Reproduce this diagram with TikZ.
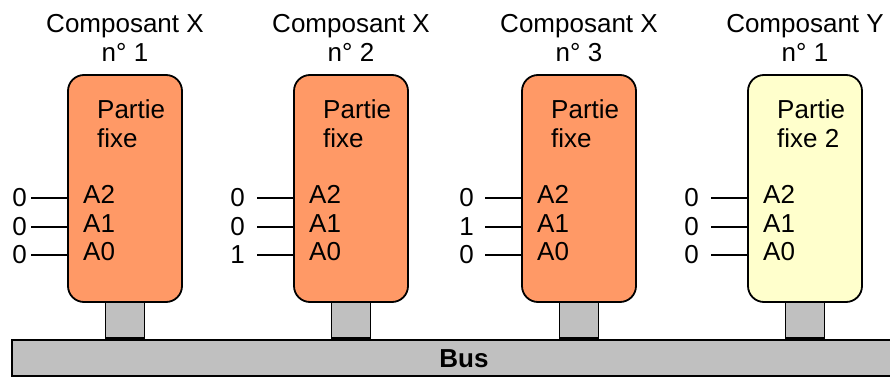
\documentclass[tikz,border=0pt]{standalone}
\usepackage{fontspec}
\setmainfont{Liberation Sans}
\definecolor{partieX}{HTML}{FF9966}
\definecolor{partieY}{HTML}{FFFFCC}
\definecolor{busgris}{HTML}{C0C0C0}
\tikzset{
  every node/.style={inner sep=0pt, font=\fontsize{26}{30}\selectfont},
  composant/.style={draw=black, line width=1.8pt, rounded corners=16pt, minimum width=114pt, minimum height=227pt},
  pied/.style={draw=black, line width=1.8pt, fill=busgris, minimum width=39pt, minimum height=37pt},
  fil/.style={line width=1.8pt},
}
\begin{document}
\begin{tikzpicture}[x=1pt, y=-1pt]
  \useasboundingbox (0,0) rectangle (890,377);
  % bus
  \node[draw, line width=1.8pt, fill=busgris, anchor=north west, minimum width=900pt, minimum height=36pt] (bus) at (11,339) {};
  \node[font=\fontsize{26}{30}\selectfont\bfseries, anchor=base] (buslabel) at (464,367) {Bus};
  % composants
  \foreach \i/\cx/\coul/\nom/\num/\fixe/\ax/\ay/\az/\ecart in {1/125/partieX/X/1/fixe/0/0/0/4, 2/351/partieX/X/2/fixe/0/0/1/12, 3/579/partieX/X/3/fixe/0/1/0/11, 4/805/partieY/Y/1/fixe 2/0/0/0/12} {
    \node[pied, anchor=south] (pied\i) at (\cx,339) {};
    \node[composant, fill=\coul] (comp\i) at (\cx,188.5) {};
    \node[anchor=base] (titre\i) at (\cx,33) {Composant \nom};
    \node[anchor=base] (numero\i) at (\cx,62) {n° \num};
    \node[anchor=base west] (partie\i) at ({\cx-28},118) {Partie};
    \node[anchor=base west] (fixe\i) at ({\cx-28},147) {\fixe};
    % adresses
    \foreach \a/\y/\v in {2/203/\ax, 1/232/\ay, 0/260/\az} {
      \node[anchor=base west] (A\a-\i) at ({\cx-42},\y) {A\a};
      \coordinate (fin\a-\i) at ({\cx-94},{\y-5});
      \node[anchor=east] (val\a-\i) at ([xshift=-\ecart pt]fin\a-\i) {\v};
      \draw[fil] (fin\a-\i) -- (comp\i.west |- fin\a-\i);
    }
  }
\end{tikzpicture}
\end{document}
